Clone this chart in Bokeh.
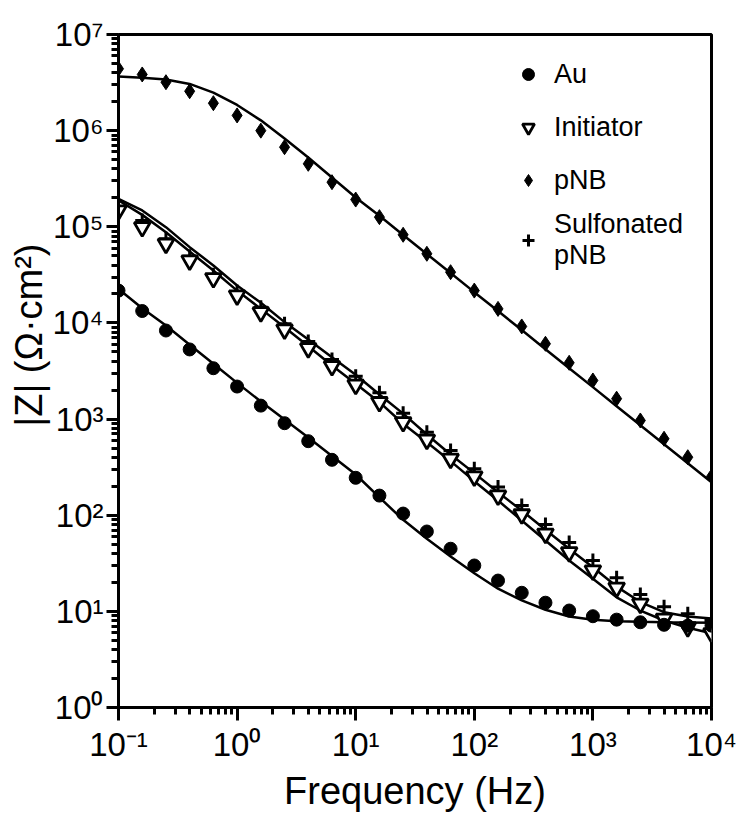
from bokeh.plotting import figure
from bokeh.models import (Range1d, FixedTicker, CustomJSTickFormatter, Title,
                          Legend, LegendItem)
from bokeh.embed import file_html
from bokeh.resources import INLINE

# ---------------- data ----------------
freq = [0.1, 0.1585, 0.2512, 0.3981, 0.631, 1.0, 1.585, 2.512, 3.981, 6.31,
        10, 15.85, 25.12, 39.81, 63.1, 100, 158.5, 251.2, 398.1, 631,
        1000, 1585, 2512, 3981, 6310, 10000]

au = [21700, 13300, 8340, 5300, 3380, 2180, 1380, 906, 589, 377,
      245, 160, 104, 67.7, 44.8, 30.0, 20.9, 15.6, 12.3, 10.2,
      8.9, 8.2, 7.7, 7.25, 7.1, 7.1]
au_fit = [22500, 14200, 9400, 5930, 3760, 2380, 1520, 990, 643, 413,
          265, 153, 89.6, 56.9, 37.2, 24.9, 17.2, 13.0, 10.4, 8.85,
          8.17, 7.9, 7.78, 7.71, 7.66, 7.6]

initiator = [148000, 99100, 66500, 44600, 29200, 19300, 12900, 8550, 5460, 3550,
             2270, 1500, 929, 609, 386, 253, 160, 102, 64.1, 41.2,
             26.6, 17.6, 12.0, 8.37, 6.84, 5.93]
initiator_fit = [188000, 133000, 87900, 55300, 35100, 21700, 14000, 9030, 5730, 3610,
                 2330, 1500, 893, 575, 365, 226, 142, 88.1, 54.6, 33.8,
                 21.8, 14.0, 10.2, 8.03, 6.75, 5.93]

pnb = [4.40e6, 3.84e6, 3.19e6, 2.57e6, 1.93e6, 1.44e6, 1.00e6, 6.73e5, 4.52e5, 2.91e5,
       1.92e5, 1.26e5, 8.26e4, 5.24e4, 3.37e4, 2.17e4, 1.40e4, 9190, 6070, 3850,
       2520, 1630, 967, 624, 401, 253]
pnb_fit = [3.66e6, 3.55e6, 3.41e6, 3.06e6, 2.49e6, 1.85e6, 1.28e6, 8.30e5, 5.26e5, 3.26e5,
           2.02e5, 1.30e5, 8.22e4, 5.21e4, 3.30e4, 2.09e4, 1.33e4, 8430, 5330, 3380,
           2150, 1360, 863, 547, 347, 220]

sulf = [1.59e5, 1.16e5, 7.50e4, 4.94e4, 3.17e4, 2.12e4, 1.46e4, 9800, 6410, 4170,
        2790, 1880, 1150, 731, 471, 304, 196, 126, 80.0, 52.1,
        33.8, 22.3, 15.0, 11.2, 9.43, 8.03]
sulf_fit = [1.95e5, 1.48e5, 9.91e4, 6.14e4, 3.96e4, 2.45e4, 1.62e4, 1.02e4, 6730, 4400,
            2890, 1800, 1140, 692, 428, 274, 173, 112, 70.5, 44.8,
            28.8, 18.1, 12.5, 9.80, 8.84, 8.43]

x_tick_values = [0.1, 1, 10, 100, 1000, 10000]
x_tick_labels = ["10\u207b\u00b9", "10\u2070", "10\u00b9", "10\u00b2", "10\u00b3", "10\u2074"]
y_tick_values = [1, 10, 100, 1000, 1e4, 1e5, 1e6, 1e7]
y_tick_labels = ["10\u2070", "10\u00b9", "10\u00b2", "10\u00b3", "10\u2074",
                 "10\u2075", "10\u2076", "10\u2077"]
x_label = "Frequency (Hz)"
y_label = "|Z| (\u03a9\u00b7cm\u00b2)"
series_names = ["Au", "Initiator", "pNB", "Sulfonated\npNB"]

FONT = "Liberation Sans"

# ---------------- figure ----------------
p = figure(width=739, height=814, x_axis_type="log", y_axis_type="log",
           x_range=Range1d(0.1, 10000), y_range=Range1d(1, 1e7),
           output_backend="svg", toolbar_location=None,
           min_border_left=118, min_border_right=28,
           min_border_top=34, min_border_bottom=107)
p.background_fill_color = "white"
p.border_fill_color = "white"
p.outline_line_color = "black"
p.outline_line_width = 3
p.xgrid.visible = False
p.ygrid.visible = False


def minor_list(majors):
    out = []
    for m in majors[:-1]:
        for k in range(2, 10):
            out.append(m * k)
    return out


p.xaxis.ticker = FixedTicker(ticks=x_tick_values, minor_ticks=minor_list(x_tick_values))
p.yaxis.ticker = FixedTicker(ticks=y_tick_values, minor_ticks=minor_list(y_tick_values))

fmt_code = """
let best = -1;
for (let i = 0; i < values.length; i++) {
  if (Math.abs(Math.log10(values[i]) - Math.log10(tick)) < 1e-6) { best = i; }
}
return best >= 0 ? labels[best] : "";
"""
p.xaxis.formatter = CustomJSTickFormatter(args=dict(values=x_tick_values, labels=x_tick_labels), code=fmt_code)
p.yaxis.formatter = CustomJSTickFormatter(args=dict(values=y_tick_values, labels=y_tick_labels), code=fmt_code)

for ax in (p.xaxis[0], p.yaxis[0]):
    ax.axis_line_color = "black"
    ax.axis_line_width = 3
    ax.major_tick_line_color = "black"
    ax.major_tick_line_width = 3
    ax.minor_tick_line_color = "black"
    ax.minor_tick_line_width = 3
    ax.major_tick_in = 0
    ax.minor_tick_in = 0
    ax.minor_tick_out = 7
    ax.major_label_text_font = FONT
    ax.major_label_text_font_size = "33px"
    ax.major_label_text_color = "black"
    ax.axis_label_text_font = FONT
    ax.axis_label_text_font_style = "normal"
    ax.axis_label_text_color = "black"

p.xaxis.major_tick_out = 13
p.yaxis.major_tick_out = 12
p.xaxis.major_label_standoff = 5
p.yaxis.major_label_standoff = 3
p.xaxis.axis_label = x_label
p.xaxis.axis_label_text_font_size = "38px"
p.xaxis.axis_label_standoff = 4

# y-axis title (placed in the left panel, its upper end ~209 px below the frame top)
p.add_layout(Title(text=y_label, align="right", offset=209, standoff=0,
                   text_font=FONT, text_font_size="38px", text_font_style="normal",
                   text_color="black"), "left")

# ---------------- fit lines ----------------
for fit in (au_fit, initiator_fit, pnb_fit, sulf_fit):
    p.line(freq, fit, line_color="black", line_width=2.5)

# ---------------- markers ----------------
r_sulf = p.scatter(freq, sulf, marker="cross", size=14, line_color="black", line_width=3)
r_init = p.scatter(freq, initiator, marker="inverted_triangle", size=16,
                   fill_color="white", line_color="black", line_width=2.8)
r_au = p.scatter(freq, au, marker="circle", size=13, fill_color="black", line_color="black")
r_pnb = p.scatter(freq, pnb, marker="diamond", size=15, fill_color="black", line_color="black")

legend = Legend(items=[LegendItem(label=series_names[0], renderers=[r_au]),
                       LegendItem(label=series_names[1], renderers=[r_init]),
                       LegendItem(label=series_names[2], renderers=[r_pnb]),
                       LegendItem(label=series_names[3], renderers=[r_sulf])],
                location=(395, 436), margin=0, padding=5, spacing=5,
                glyph_width=30, glyph_height=48, label_height=48,
                label_standoff=11, label_text_font=FONT,
                label_text_font_size="27px", label_text_line_height=1.3,
                label_text_color="black",
                border_line_color=None, background_fill_alpha=0)
p.add_layout(legend)

open("out.html", "w").write(file_html(p, INLINE))
